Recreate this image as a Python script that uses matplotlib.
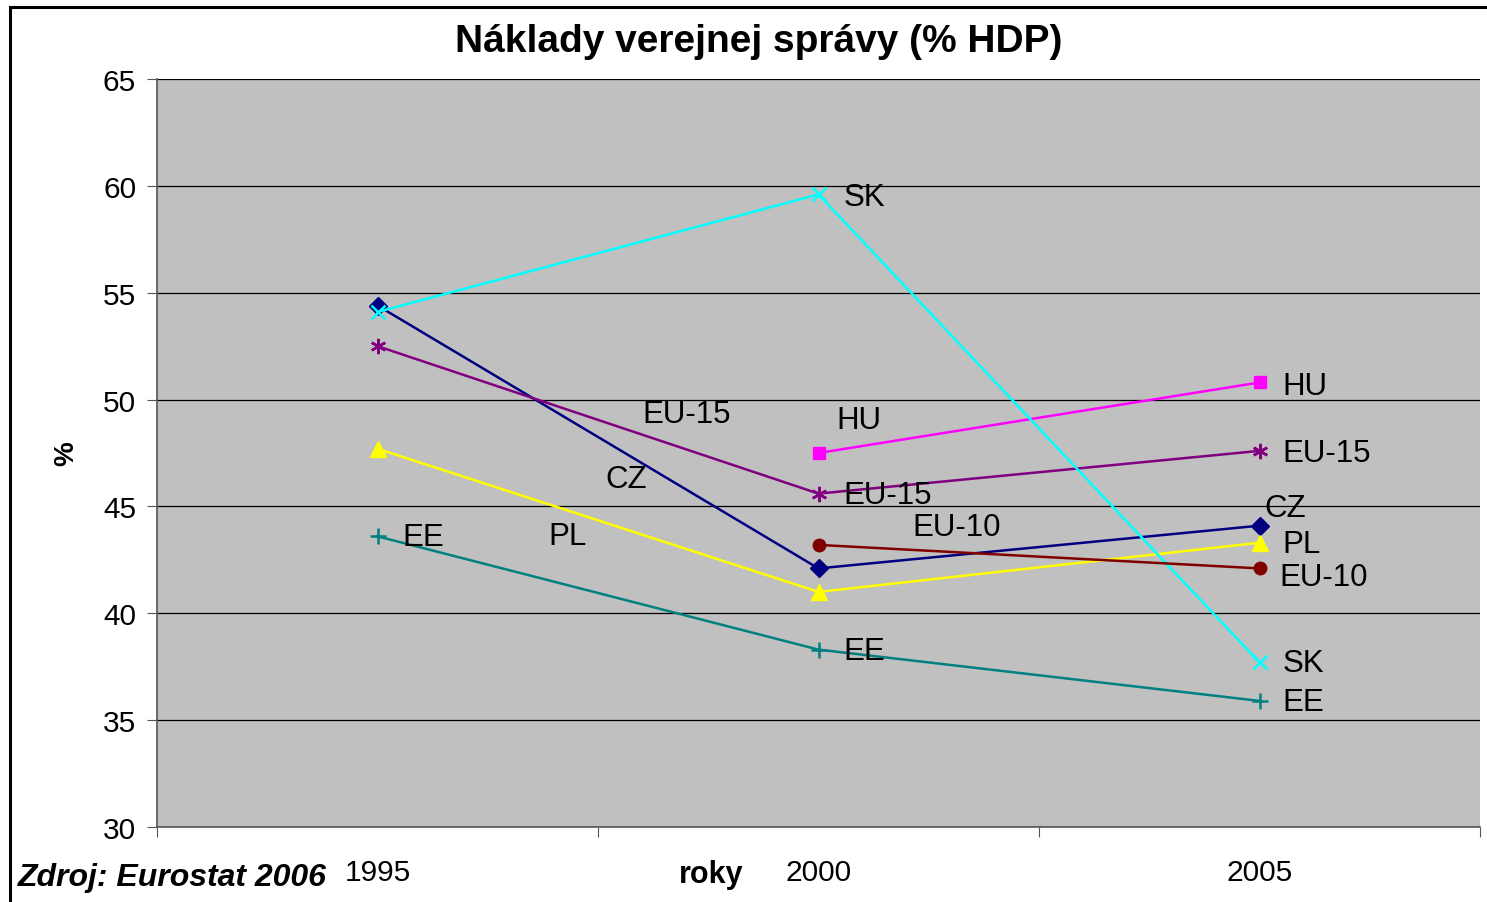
import matplotlib.pyplot as plt
import matplotlib.patches as patches
import numpy as np

plt.rcParams['font.family'] = ['Liberation Sans', 'DejaVu Sans']

years = ['1995', '2000', '2005']
cz = [54.4, 42.1, 44.1]
hu = [np.nan, 47.5, 50.8]
eu15 = [52.5, 45.6, 47.6]
pl = [47.7, 41.0, 43.3]
ee = [43.6, 38.3, 35.9]
sk = [54.1, 59.6, 37.7]
eu10 = [np.nan, 43.2, 42.1]

# series: (name, values, colour, marker, marker size)
series = [
    ('CZ', cz, '#000080', 'D', 9),
    ('HU', hu, '#FF00FF', 's', 9),
    ('EU-15', eu15, '#800080', (6, 2, 0), 11),
    ('PL', pl, '#FFFF00', '^', 11.5),
    ('EE', ee, '#008080', '+', 11),
    ('SK', sk, '#00FFFF', 'x', 10),
    ('EU-10', eu10, '#800000', 'o', 9),
]

# point labels put by hand in the original chart (text, x, y)
labels = [
    ('SK', 1.556, 59.6), ('HU', 1.54, 49.15), ('EU-15', 1.10, 49.45),
    ('CZ', 1.016, 46.4), ('EE', 0.556, 43.7), ('PL', 0.887, 43.75),
    ('EU-15', 1.556, 45.65), ('EU-10', 1.712, 44.15), ('EE', 1.556, 38.35),
    ('HU', 2.553, 50.77), ('EU-15', 2.553, 47.64), ('CZ', 2.512, 45.05),
    ('PL', 2.553, 43.38), ('EU-10', 2.544, 41.84), ('SK', 2.553, 37.8),
    ('EE', 2.553, 35.95),
]

fig = plt.figure(figsize=(14.87, 9.03), dpi=100)
ax = fig.add_axes([157/1487, 1-828/903, (1480-157)/1487, (828-80)/903])
ax.set_facecolor('#C0C0C0')

x = np.arange(len(years)) + 0.5
for name, vals, col, mk, ms in series:
    ax.plot(x, vals, color=col, marker=mk, markersize=ms, linewidth=1.8,
            markeredgewidth=1.8 if mk in ('+', 'x', (6, 2, 0)) else 1, zorder=3)

for t, lx, ly in labels:
    ax.text(lx, ly - 0.12, t, fontsize=22.5, va='center', ha='left', zorder=4)

ax.set_xlim(0, 3)
ax.set_ylim(30, 65)
ax.set_yticks(np.arange(30, 66, 5))
ax.yaxis.grid(True, color='black', linewidth=0.9)
ax.set_axisbelow(True)
ax.set_xticks([0, 1, 2, 3])
ax.set_xticklabels([])
ax.set_xticks(x, minor=True)
ax.set_xticklabels(years, minor=True)
ax.tick_params(axis='x', which='minor', length=0, pad=22, labelsize=21.5)
ax.tick_params(axis='x', which='major', length=7, direction='out', color='#555555')
ax.tick_params(axis='y', length=7, direction='out', labelsize=21.5, pad=8, color='#555555')
for s in ['top', 'right']:
    ax.spines[s].set_visible(False)
ax.spines['left'].set_color('#555555')
ax.spines['bottom'].set_color('#555555')
ax.spines['left'].set_linewidth(1.2)
ax.spines['bottom'].set_linewidth(1.2)

ax.set_ylabel('%', fontsize=20, fontweight='bold', labelpad=17)
fig.text(759/1487, 1-42/903, 'Náklady verejnej správy (% HDP)', fontsize=28,
         fontweight='bold', ha='center', va='center')
fig.text(711/1487, 1-875/903, 'roky', fontsize=22, fontweight='bold',
         ha='center', va='center')
fig.text(18/1487, 1-878/903, 'Zdroj: Eurostat 2006', fontsize=23,
         fontweight='bold', style='italic', ha='left', va='center')

fig.patches.append(patches.Rectangle((10/1487, -0.05), 1.2, 1-8/903 + 0.05,
                                     transform=fig.transFigure, fill=False,
                                     edgecolor='black', linewidth=2.2))

fig.savefig('out.png', dpi=100)
